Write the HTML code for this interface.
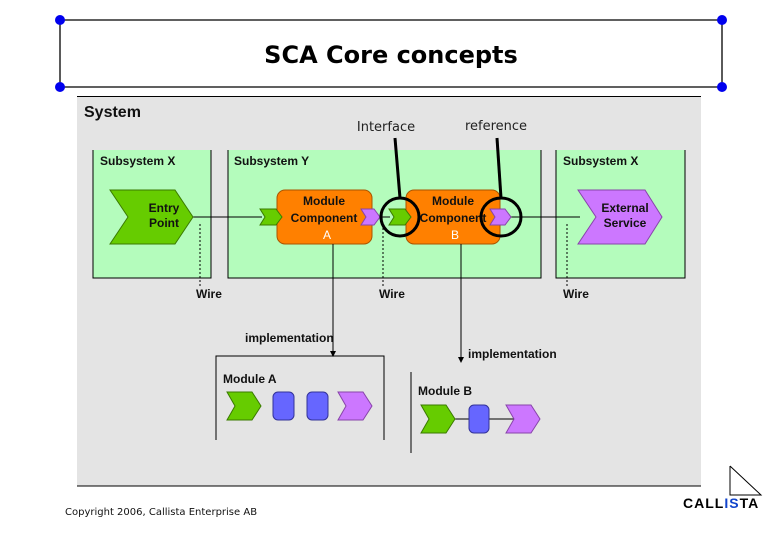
<!DOCTYPE html>
<html><head><meta charset="utf-8"><style>
html,body{margin:0;padding:0;background:#fff;}
svg{display:block;}
.s{font-family:"Liberation Sans",Arial,sans-serif;font-weight:bold;font-size:12px;fill:#111;}
.v{font-family:"DejaVu Sans",Verdana,sans-serif;}
</style></head><body>
<svg width="780" height="540" viewBox="0 0 780 540" xmlns="http://www.w3.org/2000/svg">
<!-- title frame -->
<g stroke="#000" stroke-width="1.3">
<line x1="60" y1="20" x2="722" y2="20"/><line x1="60" y1="87" x2="722" y2="87"/>
<line x1="60" y1="20" x2="60" y2="87"/><line x1="722" y1="20" x2="722" y2="87"/>
</g>
<g fill="#0000ee"><circle cx="60" cy="20" r="5"/><circle cx="722" cy="20" r="5"/><circle cx="60" cy="87" r="5"/><circle cx="722" cy="87" r="5"/></g>
<text x="391" y="63" text-anchor="middle" class="v" style="font-size:24px;font-weight:bold">SCA Core concepts</text>
<!-- diagram -->
<rect x="77" y="96" width="624" height="390" fill="#e4e4e4"/>
<line x1="77" y1="96.5" x2="701" y2="96.5" stroke="#000"/>
<line x1="77" y1="486" x2="701" y2="486" stroke="#000"/>
<text x="84" y="117" class="s" style="font-size:16px">System</text>
<text x="386" y="131" text-anchor="middle" class="v" font-size="13" fill="#222">Interface</text>
<text x="496" y="130" text-anchor="middle" class="v" font-size="13" fill="#222">reference</text>
<!-- subsystems -->
<g fill="#b4fcbc" stroke="#000" stroke-width="1">
<path d="M93,150 V278 H211 V150"/>
<path d="M228,150 V278 H541 V150"/>
<path d="M556,150 V278 H685 V150"/>
</g>
<text x="100" y="165" class="s">Subsystem X</text>
<text x="234" y="165" class="s">Subsystem Y</text>
<text x="563" y="165" class="s">Subsystem X</text>
<!-- wires -->
<g stroke="#000" stroke-width="1">
<line x1="193" y1="217" x2="262" y2="217"/>
<line x1="378" y1="217" x2="390" y2="217"/>
<line x1="510" y1="217" x2="580" y2="217"/>
</g>
<g stroke="#000" stroke-dasharray="2,2">
<line x1="200" y1="224" x2="200" y2="286"/>
<line x1="383" y1="224" x2="383" y2="286"/>
<line x1="567" y1="224" x2="567" y2="286"/>
</g>
<text x="196" y="298" class="s">Wire</text>
<text x="379" y="298" class="s">Wire</text>
<text x="563" y="298" class="s">Wire</text>
<!-- entry point -->
<polygon points="110,190 175,190 193,217 175,244 110,244 128,217" fill="#66cc00" stroke="#3a7a00"/>
<text x="164" y="212" text-anchor="middle" class="s">Entry</text>
<text x="164" y="227" text-anchor="middle" class="s">Point</text>
<!-- external service -->
<polygon points="578,190 645,190 662,217 645,244 578,244 596,217" fill="#cc77ff" stroke="#8844aa"/>
<text x="625" y="212" text-anchor="middle" class="s">External</text>
<text x="625" y="227" text-anchor="middle" class="s">Service</text>
<!-- modules -->
<rect x="277" y="190" width="95" height="54" rx="8" fill="#ff8000" stroke="#aa5500"/>
<text x="324" y="205" text-anchor="middle" class="s" fill="#222">Module</text>
<text x="324" y="222" text-anchor="middle" class="s" fill="#222">Component</text>
<text x="327" y="239" text-anchor="middle" class="s" style="fill:#fff;font-weight:normal">A</text>
<rect x="406" y="190" width="94" height="54" rx="8" fill="#ff8000" stroke="#aa5500"/>
<text x="453" y="205" text-anchor="middle" class="s" fill="#222">Module</text>
<text x="453" y="222" text-anchor="middle" class="s" fill="#222">Component</text>
<text x="455" y="239" text-anchor="middle" class="s" style="fill:#fff;font-weight:normal">B</text>
<!-- small chevrons -->
<polygon points="260,209 276,209 282,217 276,225 260,225 265,217" fill="#66cc00" stroke="#3a7a00"/>
<polygon points="361,209 374,209 380,217 374,225 361,225 366,217" fill="#cc77ff" stroke="#8844aa"/>
<polygon points="389,209 405,209 411,217 405,225 389,225 394,217" fill="#66cc00" stroke="#3a7a00"/>
<polygon points="490,209 505,209 511,217 505,225 490,225 495,217" fill="#cc77ff" stroke="#8844aa"/>
<!-- circles and pointers -->
<g fill="none" stroke="#000" stroke-width="3">
<ellipse cx="400" cy="217" rx="19" ry="19"/>
<ellipse cx="501" cy="217" rx="20" ry="19"/>
<line x1="395" y1="138" x2="400" y2="198"/>
<line x1="497" y1="138" x2="501" y2="198"/>
</g>
<!-- implementation -->
<g stroke="#000" stroke-width="1">
<line x1="333" y1="244" x2="333" y2="352"/>
<line x1="461" y1="244" x2="461" y2="358"/>
<path d="M216,440 V356 H384 V440" fill="none"/>
<line x1="411" y1="372" x2="411" y2="453"/>
<line x1="455" y1="419" x2="540" y2="419"/>
</g>
<polygon points="330,351 336,351 333,357" fill="#000"/>
<polygon points="458,357 464,357 461,363" fill="#000"/>
<text x="245" y="342" class="s">implementation</text>
<text x="468" y="358" class="s">implementation</text>
<text x="223" y="383" class="s">Module A</text>
<text x="418" y="395" class="s">Module B</text>
<!-- module A icons -->
<polygon points="227,392 252,392 261,406 252,420 227,420 235,406" fill="#66cc00" stroke="#3a7a00"/>
<rect x="273" y="392" width="21" height="28" rx="5" fill="#6666ff" stroke="#333399"/>
<rect x="307" y="392" width="21" height="28" rx="5" fill="#6666ff" stroke="#333399"/>
<polygon points="338,392 363,392 372,406 363,420 338,420 346,406" fill="#cc77ff" stroke="#8844aa"/>
<!-- module B icons -->
<polygon points="421,405 446,405 455,419 446,433 421,433 429,419" fill="#66cc00" stroke="#3a7a00"/>
<rect x="469" y="405" width="20" height="28" rx="5" fill="#6666ff" stroke="#333399"/>
<polygon points="506,405 531,405 540,419 531,433 506,433 514,419" fill="#cc77ff" stroke="#8844aa"/>
<!-- footer -->
<text x="65" y="515" class="v" font-size="10" fill="#111">Copyright 2006, Callista Enterprise AB</text>
<polyline points="730,466 730,495 761,495 730,466" fill="none" stroke="#000" stroke-width="1"/>
<text x="683" y="508" font-family="Liberation Sans,Arial,sans-serif" font-weight="bold" font-size="14" fill="#000" letter-spacing="1">CALL<tspan fill="#1144cc">IS</tspan>TA</text>
</svg>
</body></html>
